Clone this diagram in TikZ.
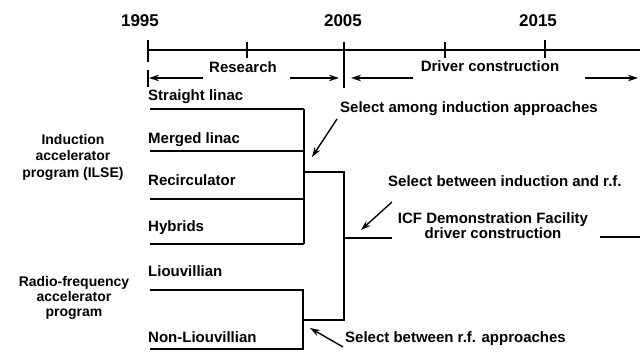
\documentclass[tikz,border=0pt]{standalone}
\usepackage{fontspec}
\setmainfont{Liberation Sans}
\usetikzlibrary{arrows.meta}
\begin{document}
\begin{tikzpicture}[x=1pt,y=-1pt,
  lbl/.style={font=\bfseries\fontsize{15}{16.5}\selectfont, inner sep=0pt},
  prog/.style={font=\bfseries\fontsize{14}{16.5}\selectfont, inner sep=0pt, align=center},
  yr/.style={font=\bfseries\fontsize{17}{19}\selectfont, inner sep=0pt},
  ln/.style={line width=1.4pt},
  arr/.style={line width=1.4pt,-{Stealth[length=10pt,width=6.5pt]}},
]
\useasboundingbox (0,0) rectangle (640,352);
% years
\node[yr,anchor=base] (y95) at (140,27) {1995};
\node[yr,anchor=base] (y05) at (343,27) {2005};
\node[yr,anchor=base] (y15) at (538,27) {2015};
% timeline
\coordinate (t0) at (148,50);
\coordinate (tE) at (640,50);
\draw[ln] (t0) -- (tE);
\draw[ln] (148,40) -- (148,62);
\draw[ln] (247,42) -- (247,58);
\draw[ln] (344,42) -- (344,88);
\draw[ln] (445,42) -- (445,58);
\draw[ln] (545,40) -- (545,58);
% phase arrows
\draw[ln] (148,70) -- (148,87);
\node[lbl,anchor=base] (res) at (243,73) {Research};
\node[lbl,anchor=base] (dc) at (490,72) {Driver construction};
\coordinate (r1) at (203,78); \coordinate (r0) at (149,78);
\coordinate (r2) at (290,78); \coordinate (r3) at (339,78);
\coordinate (d1) at (413,78); \coordinate (d0) at (351,78);
\coordinate (d2) at (585,78); \coordinate (d3) at (638,78);
\draw[arr] (r1) -- (r0);
\draw[arr] (r2) -- (r3);
\draw[arr] (d1) -- (d0);
\draw[arr] (d2) -- (d3);
% program labels
\node[prog] (ind) at (73,157) {Induction\\accelerator\\program (ILSE)};
\node[prog,font=\bfseries\fontsize{14}{15}\selectfont] (rf) at (74,298) {Radio-frequency\\accelerator\\program};
% approach labels
\node[lbl,anchor=base west] (sl) at (148,101) {Straight linac};
\node[lbl,anchor=base west] (ml) at (148,144) {Merged linac};
\node[lbl,anchor=base west] (rc) at (148,186) {Recirculator};
\node[lbl,anchor=base west] (hy) at (148,232) {Hybrids};
\node[lbl,anchor=base west] (li) at (148,277) {Liouvillian};
\node[lbl,anchor=base west] (nl) at (148,343) {Non-Liouvillian};
% induction bracket
\draw[ln] (150,109) -- (304,109);
\draw[ln] (150,151) -- (304,151);
\draw[ln] (150,199) -- (304,199);
\draw[ln] (150,244) -- (304,244);
\draw[ln] (304,109) -- (304,244);
% rf bracket
\draw[ln] (150,290) -- (303,290) -- (303,349) -- (150,349);
% selection bracket
\coordinate (jI) at (304,172);
\coordinate (jR) at (303,320);
\draw[ln] (jI) -- (344,172) -- (344,320) -- (jR);
% ICF
\node[lbl,align=center,font=\bfseries\fontsize{15}{13.5}\selectfont] (icf) at (493,226) {ICF Demonstration Facility\\driver construction};
\draw[ln] (344,238) -- (392,238);
\draw[ln] (600,237) -- (640,237);
% selection notes
\node[lbl,anchor=base west] (sa) at (340,113) {Select among induction approaches};
\node[lbl,anchor=base west] (sb) at (388,187) {Select between induction and r.f.};
\node[lbl,anchor=base west] (sr) at (345,343) {Select between r.f. approaches};
\coordinate (a1) at (337,119); \coordinate (a2) at (312,157);
\coordinate (b1) at (392,202); \coordinate (b2) at (361,230);
\coordinate (c1) at (343,347); \coordinate (c2) at (310,328);
\draw[arr] (a1) -- (a2);
\draw[arr] (b1) -- (b2);
\draw[arr] (c1) -- (c2);
\end{tikzpicture}
\end{document}
